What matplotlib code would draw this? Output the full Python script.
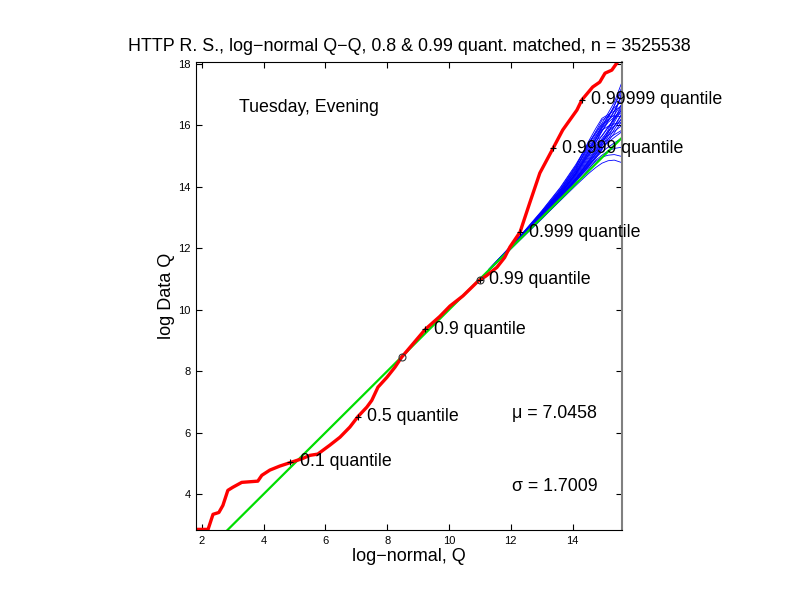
import numpy as np
import matplotlib
matplotlib.use("Agg")
import matplotlib.pyplot as plt

plt.rcParams["font.family"] = ["Liberation Sans", "DejaVu Sans"]

# lognormal fit
mu = 7.0458
sigma = 1.7009
n_obs = 3525538

# data quantiles (log scale) against fitted log-normal quantiles
red_x = [1.81, 2.20, 2.36, 2.55, 2.68, 2.84, 3.00, 3.29, 3.81, 3.94, 4.20, 4.52,
         4.85, 5.24, 5.50, 5.75, 6.14, 6.47, 6.79, 7.05, 7.34, 7.50, 7.70, 7.99,
         8.25, 8.47, 8.80, 9.23, 9.70, 10.03, 10.45, 10.93, 11.20, 11.55, 11.80,
         11.97, 12.30, 12.61, 12.94, 13.37, 13.68, 14.14, 14.30, 14.65, 14.88,
         15.05, 15.27, 15.46, 15.59]
red_y = [2.85, 2.85, 3.34, 3.40, 3.63, 4.12, 4.22, 4.38, 4.42, 4.61, 4.78, 4.91,
         5.02, 5.15, 5.26, 5.30, 5.59, 5.85, 6.18, 6.52, 6.83, 7.05, 7.48, 7.80,
         8.13, 8.46, 8.85, 9.36, 9.78, 10.12, 10.45, 10.92, 11.10, 11.38, 11.70,
         12.04, 12.53, 13.47, 14.45, 15.26, 15.85, 16.50, 16.83, 17.25, 17.41,
         17.70, 17.80, 18.07, 18.12]

# reference line (matched at 0.8 and 0.99 quantiles)
line_x = [2.75, 15.6]
match_x = [8.477, 11.003]
match_y = [8.47, 10.98]

# quantile markers on the data curve
q_labels = ["0.1", "0.5", "0.9", "0.99", "0.999", "0.9999", "0.99999"]
q_x = [4.866, 7.046, 9.225, 11.003, 12.302, 13.371, 14.300]
q_y = [5.05, 6.52, 9.36, 10.98, 12.53, 15.26, 16.83]

# simulated upper-tail envelopes: offsets from the reference line at these x nodes
sim_nodes = [11.3, 12.3, 13.0, 13.6, 14.1, 14.5, 14.75, 14.95, 15.15, 15.35, 15.59]
sim_offsets = [
    [0.00, 0.02, 0.05, 0.10, 0.18, 0.30, 0.40, 0.48, 0.55, 0.62, 0.75],
    [0.01, 0.05, 0.12, 0.22, 0.40, 0.65, 0.80, 0.95, 1.00, 1.10, 1.40],
    [-0.02, -0.03, -0.05, -0.04, -0.02, 0.05, 0.12, 0.08, 0.02, -0.10, -0.30],
    [0.02, 0.08, 0.18, 0.30, 0.55, 0.95, 1.15, 1.28, 1.20, 1.12, 1.05],
    [0.00, 0.00, 0.03, 0.06, 0.12, 0.20, 0.22, 0.28, 0.33, 0.40, 0.55],
    [0.01, 0.04, 0.09, 0.15, 0.28, 0.45, 0.60, 0.72, 0.80, 0.88, 1.00],
    [-0.01, 0.00, 0.02, 0.05, 0.10, 0.10, 0.08, 0.02, -0.12, -0.30, -0.60],
    [0.03, 0.10, 0.22, 0.38, 0.62, 0.90, 1.02, 1.12, 1.25, 1.40, 1.80],
    [0.00, 0.03, 0.07, 0.14, 0.25, 0.40, 0.50, 0.58, 0.52, 0.46, 0.40],
    [0.01, 0.06, 0.14, 0.25, 0.42, 0.70, 0.88, 1.05, 1.15, 1.22, 1.20],
    [-0.01, -0.01, 0.00, 0.02, 0.06, 0.15, 0.25, 0.32, 0.30, 0.26, 0.20],
    [0.02, 0.07, 0.15, 0.28, 0.48, 0.75, 0.80, 0.88, 0.95, 0.92, 0.90],
    [0.00, 0.02, 0.04, 0.08, 0.14, 0.22, 0.30, 0.38, 0.50, 0.62, 0.80],
    [0.01, 0.05, 0.11, 0.20, 0.35, 0.55, 0.70, 0.85, 1.00, 1.12, 1.35],
    [-0.02, -0.02, -0.03, -0.05, -0.06, -0.08, -0.12, -0.18, -0.30, -0.48, -0.80],
    [0.02, 0.06, 0.13, 0.24, 0.45, 0.85, 1.05, 1.22, 1.15, 0.95, 0.70],
    [0.00, 0.01, 0.03, 0.07, 0.15, 0.25, 0.32, 0.45, 0.62, 0.82, 1.10],
    [0.01, 0.04, 0.08, 0.17, 0.30, 0.50, 0.55, 0.62, 0.66, 0.64, 0.60],
    [0.00, 0.02, 0.06, 0.12, 0.22, 0.35, 0.45, 0.55, 0.70, 0.95, 1.50],
    [0.01, 0.03, 0.06, 0.10, 0.18, 0.28, 0.34, 0.40, 0.42, 0.35, 0.25],
    [0.02, 0.09, 0.20, 0.35, 0.58, 0.88, 0.98, 1.08, 1.02, 1.00, 1.10],
    [-0.01, 0.01, 0.04, 0.09, 0.16, 0.32, 0.40, 0.50, 0.62, 0.75, 0.95],
    [0.00, 0.04, 0.10, 0.18, 0.32, 0.60, 0.82, 1.00, 1.15, 1.28, 1.55],
    [0.01, 0.02, 0.05, 0.08, 0.12, 0.18, 0.20, 0.19, 0.14, 0.08, 0.00],
    [0.00, 0.03, 0.08, 0.16, 0.36, 0.62, 0.75, 0.70, 0.78, 0.85, 0.85],
    [0.01, 0.05, 0.10, 0.19, 0.33, 0.52, 0.68, 0.90, 0.82, 0.70, 0.50],
    [-0.01, 0.01, 0.03, 0.06, 0.09, 0.14, 0.18, 0.26, 0.40, 0.52, 0.65],
    [0.02, 0.07, 0.16, 0.30, 0.52, 0.80, 0.92, 0.98, 1.08, 1.30, 1.65],
]

fig = plt.figure(figsize=(7.92, 6.12), dpi=100)
ax = fig.add_axes([0.2475, 0.134, 0.5375, 0.765])

# simulated curves
for offs in sim_offsets:
    ys = [xv + o for xv, o in zip(sim_nodes, offs)]
    ax.plot(sim_nodes, ys, color="blue", lw=0.6)

ax.plot(line_x, line_x, color="#00dd00", lw=1.6)
ax.plot(red_x, red_y, color="red", lw=2.4, solid_joinstyle="round")
ax.plot(match_x, match_y, "o", mfc="none", mec="#333333", ms=5, mew=0.8)

for lab, qx, qy in zip(q_labels, q_x, q_y):
    ax.plot(qx, qy, "+", color="black", ms=5, mew=0.8)
    ax.text(qx + 0.3, qy, lab + " quantile", fontsize=12.8, va="center", ha="left")

ax.text(3.2, 16.57, "Tuesday, Evening", fontsize=12.8, va="center", ha="left")
ax.text(12.03, 6.63, "\u03bc = 7.0458", fontsize=12.8, va="center", ha="left")
ax.text(12.03, 4.25, "\u03c3 = 1.7009", fontsize=12.8, va="center", ha="left")

ax.set_xlim(1.81, 15.59)
ax.set_ylim(2.83, 18.07)
ax.set_xticks([2, 4, 6, 8, 10, 12, 14])
ax.set_yticks([4, 6, 8, 10, 12, 14, 16, 18])
ax.tick_params(direction="in", top=True, right=True, length=4, labelsize=8, pad=4)
ax.spines["right"].set_color("0.5")
ax.spines["right"].set_linewidth(1.5)

ax.set_title("HTTP R. S., log\u2212normal Q\u2212Q, 0.8 & 0.99 quant. matched, n = %d" % n_obs,
             fontsize=12.9, pad=8)
ax.set_xlabel("log\u2212normal, Q", fontsize=13)
ax.set_ylabel("log Data Q", fontsize=13)
ax.xaxis.set_label_coords(0.5, -0.038)
ax.yaxis.set_label_coords(-0.05, 0.5)

fig.savefig("out.png", dpi=100)
